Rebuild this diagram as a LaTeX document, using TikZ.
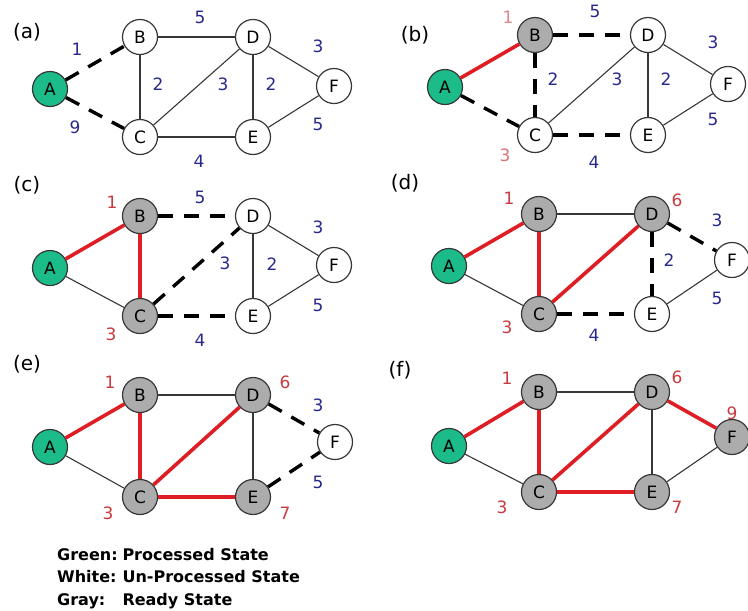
\documentclass[tikz,border=0pt]{standalone}
\usepackage{fontspec}
\setmainfont{DejaVu Sans}
\definecolor{procgreen}{RGB}{28,188,138}
\definecolor{readygray}{RGB}{172,172,172}
\definecolor{treered}{RGB}{222,30,36}
\definecolor{wtblue}{RGB}{40,40,140}
\definecolor{distred}{RGB}{200,58,62}
\definecolor{rimgray}{RGB}{55,55,55}

\begin{document}
\begin{tikzpicture}[x=1pt,y=-1pt,
  vtx/.style={circle,draw=rimgray,line width=1.2pt,minimum size=35pt,inner sep=0pt,font=\fontsize{17}{17}\selectfont},
  done/.style={vtx,fill=procgreen},
  ready/.style={vtx,fill=readygray},
  fresh/.style={vtx,fill=white},
  plain/.style={line width=1.1pt,rimgray},
  tree/.style={line width=3.6pt,treered},
  probe/.style={line width=3.4pt,black,dash pattern=on 15pt off 11pt},
  wt/.style={text=wtblue,font=\fontsize{17}{17}\selectfont,inner sep=0pt},
  dist/.style={text=distred,font=\fontsize{17}{17}\selectfont,inner sep=0pt},
  tag/.style={font=\fontsize{20}{20}\selectfont,inner sep=0pt}]
\useasboundingbox (0,0) rectangle (748,611);
% panel tags
\node[tag] (ta) at (27,32) {(a)};
\node[tag] (tb) at (415,35) {(b)};
\node[tag] (tc) at (27,185) {(c)};
\node[tag] (td) at (405,183) {(d)};
\node[tag] (te) at (27,364) {(e)};
\node[tag] (tf) at (400,370) {(f)};
% (a)
\begin{scope}[shift={(50,89)}]
\node[done] (aA) at (0,0) {A};
\node[fresh] (aB) at (90,-52) {B};
\node[fresh] (aC) at (90,48) {C};
\node[fresh] (aD) at (203,-52) {D};
\node[fresh] (aE) at (203,48) {E};
\node[fresh] (aF) at (284,-3) {F};
\foreach \a/\b in {aA/aB,aA/aC} \draw[probe] (\a)--(\b);
\foreach \a/\b in {aB/aD,aB/aC,aC/aD,aC/aE,aD/aE,aD/aF,aE/aF} \draw[plain] (\a)--(\b);
\foreach \p/\t [count=\i] in {{27,-40}/1,{25,38}/9,{150,-72}/5,{108,-5}/2,{173,-5}/3,{221,-5}/2,{268,-43}/3,{268,35}/5,{149,72}/4}
  \node[wt] (aw\i) at (\p) {\t};
\end{scope}
% (b)
\begin{scope}[shift={(445,87)}]
\node[done] (bA) at (0,0) {A};
\node[ready] (bB) at (90,-52) {B};
\node[fresh] (bC) at (90,48) {C};
\node[fresh] (bD) at (203,-52) {D};
\node[fresh] (bE) at (203,48) {E};
\node[fresh] (bF) at (283,-3) {F};
\draw[tree] (bA)--(bB);
\foreach \a/\b in {bA/bC,bB/bD,bB/bC,bC/bE} \draw[probe] (\a)--(\b);
\foreach \a/\b in {bC/bD,bD/bE,bD/bF,bE/bF} \draw[plain] (\a)--(\b);
\node[dist,text=distred!60] (bd1) at (63,-70) {1};
\node[dist,text=distred!70] (bd2) at (60,68) {3};
\foreach \p/\t [count=\i] in {{150,-76}/5,{108,-8}/2,{172,-8}/3,{221,-8}/2,{268,-45}/3,{268,32}/5,{149,75}/4}
  \node[wt] (bw\i) at (\p) {\t};
\end{scope}
% (c)
\begin{scope}[shift={(50,268)}]
\node[done] (cA) at (0,0) {A};
\node[ready] (cB) at (90,-52) {B};
\node[ready] (cC) at (90,48) {C};
\node[fresh] (cD) at (203,-52) {D};
\node[fresh] (cE) at (203,48) {E};
\node[fresh] (cF) at (284,-3) {F};
\foreach \a/\b in {cA/cB,cB/cC} \draw[tree] (\a)--(\b);
\foreach \a/\b in {cB/cD,cC/cD,cC/cE} \draw[probe] (\a)--(\b);
\foreach \a/\b in {cA/cC,cD/cE,cD/cF,cE/cF} \draw[plain] (\a)--(\b);
\node[dist] (cd1) at (62,-66) {1};
\node[dist] (cd2) at (61,66) {3};
\foreach \p/\t [count=\i] in {{150,-71}/5,{175,-5}/3,{222,-4}/2,{268,-41}/3,{268,37}/5,{150,72}/4}
  \node[wt] (cw\i) at (\p) {\t};
\end{scope}
% (d)
\begin{scope}[shift={(449,266)}]
\node[done] (dA) at (0,0) {A};
\node[ready] (dB) at (90,-52) {B};
\node[ready] (dC) at (90,48) {C};
\node[ready] (dD) at (203,-52) {D};
\node[fresh] (dE) at (203,48) {E};
\node[fresh] (dF) at (283,-6) {F};
\foreach \a/\b in {dA/dB,dB/dC,dC/dD} \draw[tree] (\a)--(\b);
\foreach \a/\b in {dD/dE,dD/dF,dC/dE} \draw[probe] (\a)--(\b);
\foreach \a/\b in {dA/dC,dB/dD,dE/dF} \draw[plain] (\a)--(\b);
\node[dist] (dd1) at (60,-68) {1};
\node[dist] (dd2) at (58,61) {3};
\node[dist] (dd3) at (228,-66) {6};
\foreach \p/\t [count=\i] in {{268,-46}/3,{220,-6}/2,{268,32}/5,{145,69}/4}
  \node[wt] (dw\i) at (\p) {\t};
\end{scope}
% (e)
\begin{scope}[shift={(50,447)}]
\node[done] (eA) at (0,0) {A};
\node[ready] (eB) at (90,-52) {B};
\node[ready] (eC) at (90,50) {C};
\node[ready] (eD) at (203,-52) {D};
\node[ready] (eE) at (203,50) {E};
\node[fresh] (eF) at (285,-5) {F};
\foreach \a/\b in {eA/eB,eB/eC,eC/eD,eC/eE} \draw[tree] (\a)--(\b);
\foreach \a/\b in {eD/eF,eE/eF} \draw[probe] (\a)--(\b);
\foreach \a/\b in {eA/eC,eB/eD,eD/eE} \draw[plain] (\a)--(\b);
\node[dist] (ed1) at (60,-65) {1};
\node[dist] (ed2) at (58,66) {3};
\node[dist] (ed3) at (235,-65) {6};
\node[dist] (ed4) at (235,66) {7};
\foreach \p/\t [count=\i] in {{268,-42}/3,{268,35}/5}
  \node[wt] (ew\i) at (\p) {\t};
\end{scope}
% (f)
\begin{scope}[shift={(449,446)}]
\node[done] (fA) at (0,0) {A};
\node[ready] (fB) at (90,-54) {B};
\node[ready] (fC) at (90,46) {C};
\node[ready] (fD) at (203,-54) {D};
\node[ready] (fE) at (203,46) {E};
\node[ready] (fF) at (283,-9) {F};
\foreach \a/\b in {fA/fB,fB/fC,fC/fD,fC/fE,fD/fF} \draw[tree] (\a)--(\b);
\foreach \a/\b in {fA/fC,fB/fD,fD/fE,fE/fF} \draw[plain] (\a)--(\b);
\node[dist] (fd1) at (58,-68) {1};
\node[dist] (fd2) at (53,61) {3};
\node[dist] (fd3) at (228,-69) {6};
\node[dist] (fd4) at (228,61) {7};
\node[dist] (fd5) at (283,-33) {9};
\end{scope}
% legend
\node[anchor=west,inner sep=0pt,font=\fontsize{16}{22.5}\selectfont\bfseries] (legend) at (57,578)
  {\begin{tabular}{@{}l@{\hspace{0.3em}}l@{}}Green: & Processed State\\ White: & Un-Processed State\\ Gray: & Ready State\end{tabular}};
\end{tikzpicture}
\end{document}
